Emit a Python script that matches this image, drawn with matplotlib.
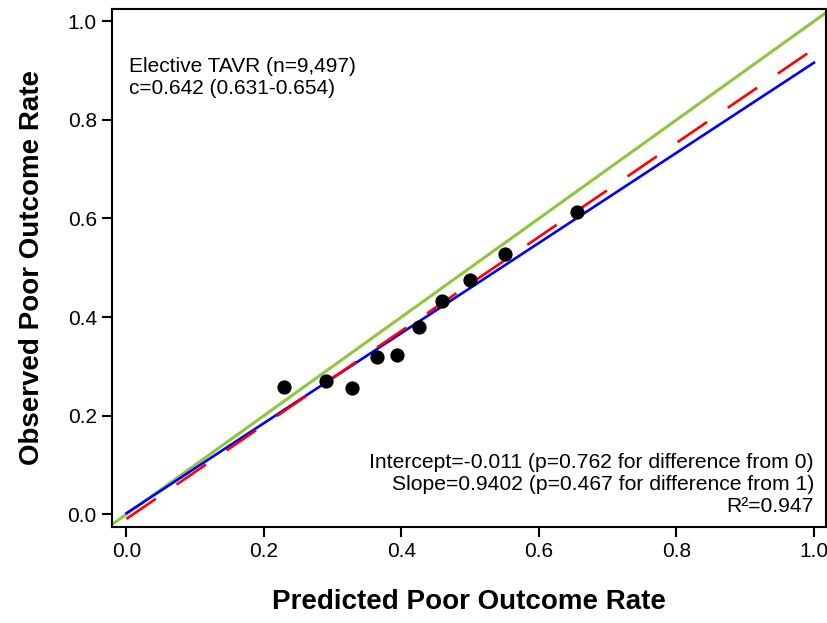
import matplotlib
matplotlib.use("Agg")
import matplotlib.pyplot as plt

plt.rcParams['font.family'] = ['Liberation Sans', 'DejaVu Sans']

# Observed vs predicted decile points
pred = [0.229, 0.290, 0.328, 0.364, 0.394, 0.425, 0.459, 0.500, 0.551, 0.656]
obs = [0.258, 0.270, 0.255, 0.319, 0.322, 0.379, 0.432, 0.475, 0.527, 0.614]

# Lines (x endpoints, y endpoints)
fit_x = [0.0, 1.0]
fit_y = [0.002, 0.916]        # blue fitted line
cal_x = [0.0, 1.0]
cal_y = [-0.0095, 0.944]      # red dashed line
ident_x = [-0.03, 1.03]
ident_y = [-0.03, 1.03]       # green identity line

xticks = [0.0, 0.2, 0.4, 0.6, 0.8, 1.0]
yticks = [0.0, 0.2, 0.4, 0.6, 0.8, 1.0]

fig = plt.figure(figsize=(8.28, 6.23), dpi=100)
ax = fig.add_axes([0.1353, 0.1541, 0.8623, 0.8315])

ax.plot(ident_x, ident_y, color='#8dc63f', lw=2.2, zorder=2)
ax.plot(fit_x, fit_y, color='#0000ff', lw=1.9, zorder=3)
ax.plot(cal_x, cal_y, color='#ff0000', lw=1.9, dashes=(13.5, 9.5), zorder=4)
ax.scatter(pred, obs, s=105, color='black', zorder=5, linewidths=0)

ax.set_xlim(-0.021, 1.0175)
ax.set_ylim(-0.026, 1.025)
ax.set_xticks(xticks)
ax.set_yticks(yticks)
ax.set_xticklabels([f"{t:.1f}" for t in xticks])
ax.set_yticklabels([f"{t:.1f}" for t in yticks])
ax.tick_params(axis='both', direction='out', length=7, width=1.5, labelsize=15, pad=4)
for sp in ax.spines.values():
    sp.set_linewidth(1.5)

ax.set_xlabel('Predicted Poor Outcome Rate', fontsize=20, fontweight='bold', labelpad=20)
ax.set_ylabel('Observed Poor Outcome Rate', fontsize=20, fontweight='bold', labelpad=16)

ax.text(0.0035, 0.885, 'Elective TAVR (n=9,497)\nc=0.642 (0.631-0.654)', fontsize=15,
        ha='left', va='center', linespacing=1.2)
ax.text(1.0, 0.0595, 'Intercept=-0.011 (p=0.762 for difference from 0)\n'
        'Slope=0.9402 (p=0.467 for difference from 1)\nR²=0.947', fontsize=15.2,
        ha='right', va='center', linespacing=1.2)

fig.savefig('out.png', dpi=100)
